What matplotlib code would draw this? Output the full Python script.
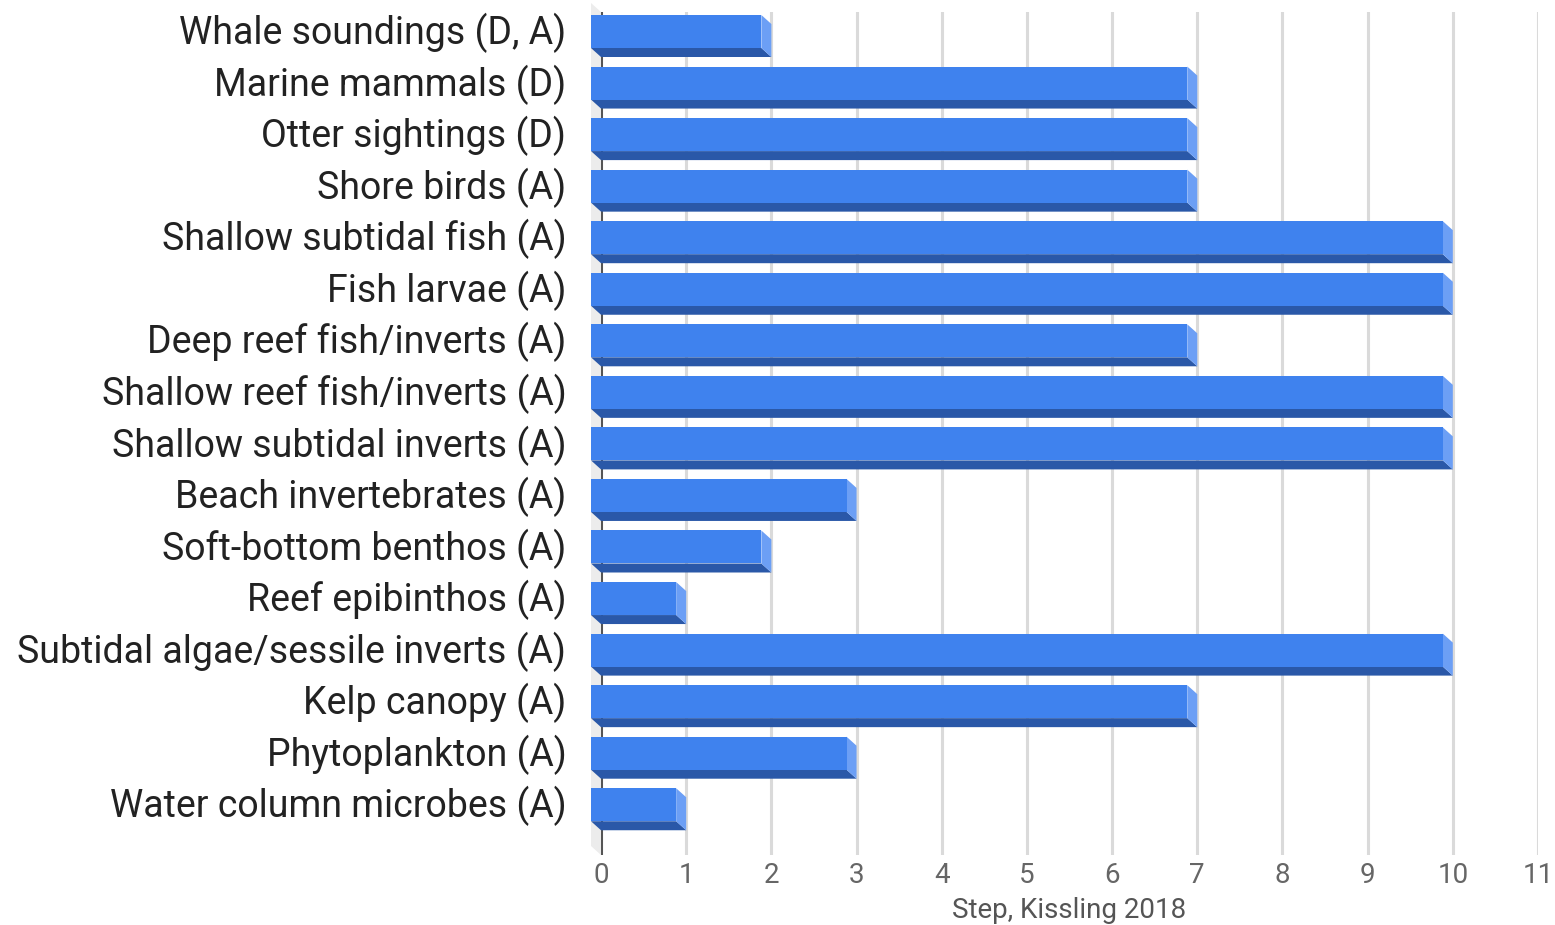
import matplotlib.pyplot as plt
from matplotlib.patches import Polygon

plt.rcParams["font.family"] = ["Roboto", "DejaVu Sans"]

categories = [
    "Whale soundings (D, A)",
    "Marine mammals (D)",
    "Otter sightings (D)",
    "Shore birds (A)",
    "Shallow subtidal fish (A)",
    "Fish larvae (A)",
    "Deep reef fish/inverts (A)",
    "Shallow reef fish/inverts (A)",
    "Shallow subtidal inverts (A)",
    "Beach invertebrates (A)",
    "Soft-bottom benthos (A)",
    "Reef epibinthos (A)",
    "Subtidal algae/sessile inverts (A)",
    "Kelp canopy (A)",
    "Phytoplankton (A)",
    "Water column microbes (A)",
]
steps = [2, 7, 7, 7, 10, 10, 7, 10, 10, 3, 2, 1, 10, 7, 3, 1]
x_ticks = list(range(0, 12))

FRONT = "#3f82ee"
BOTTOM = "#2a58a8"
SIDE = "#6c9ff5"
GRID = "#dadada"

fig = plt.figure(figsize=(15.55, 9.25), dpi=100)
W, H = 1555, 925
left_px, right_px = 601, 1538
top_px, bot_px = 12, 855
ax = fig.add_axes([left_px / W, 1 - bot_px / H, (right_px - left_px) / W, (bot_px - top_px) / H])

row_px = 51.55
first_px = 40.5
ax.set_xlim(0, 11)
ax.set_ylim((bot_px - first_px) / row_px, (top_px - first_px) / row_px)

# pixel scales for the 3-D depth offset
ux = (right_px - left_px) / 11.0
dx = 10 / ux
dy = 9 / row_px
h = 33 / row_px

for s in ["top", "right", "left", "bottom"]:
    ax.spines[s].set_visible(False)

for t in x_ticks:
    ax.axvline(t, color="#555555" if t == 0 else GRID, lw=2.2, zorder=0)

# left wall of the 3-D box
ylo, yhi = ax.get_ylim()
ax.add_patch(Polygon([(0, ylo), (0, yhi), (-dx, yhi - dy), (-dx, ylo - dy)],
                     closed=True, fc="#ececec", ec="none", zorder=0, clip_on=False))

for i, v in enumerate(steps):
    y0 = i - h / 2
    y1 = i + h / 2
    # back face corners are at (0..v, y0..y1); front face is shifted up-left
    front = [(-dx, y0 - dy), (v - dx, y0 - dy), (v - dx, y1 - dy), (-dx, y1 - dy)]
    bottom = [(-dx, y1 - dy), (v - dx, y1 - dy), (v, y1), (0, y1)]
    side = [(v - dx, y0 - dy), (v, y0), (v, y1), (v - dx, y1 - dy)]
    ax.add_patch(Polygon(bottom, closed=True, fc=BOTTOM, ec="none", zorder=3, clip_on=False))
    ax.add_patch(Polygon(side, closed=True, fc=SIDE, ec="none", zorder=3, clip_on=False))
    ax.add_patch(Polygon(front, closed=True, fc=FRONT, ec="none", zorder=4, clip_on=False))

label_shift = 3 / row_px
ax.set_yticks([i - dy - label_shift for i in range(len(categories))])
ax.set_yticklabels(categories, fontsize=27, color="#222222")
ax.tick_params(axis="y", length=0, pad=25)

ax.set_xticks(x_ticks)
ax.set_xticklabels([str(t) for t in x_ticks], fontsize=20, color="#666666")
ax.tick_params(axis="x", length=0, pad=5)
ax.set_xlabel("Step, Kissling 2018", fontsize=20, color="#555555", labelpad=6)

fig.savefig("out.png", dpi=100)
